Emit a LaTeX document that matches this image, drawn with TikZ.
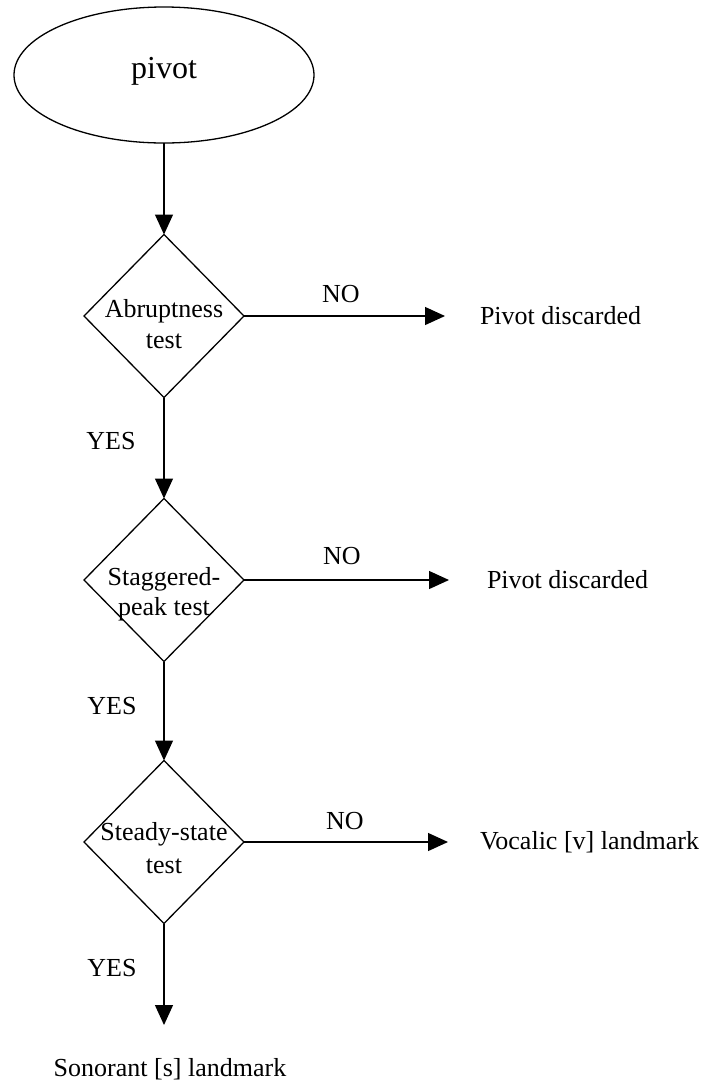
\documentclass[tikz,border=0pt]{standalone}
\usepackage{fontspec}
\setmainfont{Liberation Serif}
\usetikzlibrary{shapes.geometric,arrows.meta}
\begin{document}
\begin{tikzpicture}[x=1pt,y=-1pt,
  line width=1.3pt,
  flow/.style={-{Triangle[length=20pt,width=18pt]}},
  testbox/.style={draw,diamond,minimum width=160pt,minimum height=163pt,inner sep=0pt,outer sep=0pt},
  txt/.style={font=\fontsize{26}{31}\selectfont,inner sep=0pt,outer sep=0pt},
]
\useasboundingbox (0,0) rectangle (710,1080);

% start node
\node[draw,ellipse,minimum width=300pt,minimum height=136pt,inner sep=0pt,outer sep=0pt] (pivot) at (164,75) {};
\node[txt,font=\fontsize{32}{38}\selectfont,anchor=base] (pivottext) at (164,78) {pivot};

% decision diamonds
\node[testbox] (d1) at (164,316) {};
\node[txt,anchor=base] (d1a) at (164,317) {Abruptness};
\node[txt,anchor=base] (d1b) at (164,348) {test};

\node[testbox] (d2) at (164,580) {};
\node[txt,anchor=base] (d2a) at (164,585) {Staggered-};
\node[txt,anchor=base] (d2b) at (164,615) {peak test};

\node[testbox] (d3) at (164,842) {};
\node[txt,anchor=base] (d3a) at (164,840) {Steady-state};
\node[txt,anchor=base] (d3b) at (164,873) {test};

% outcomes
\node[txt,anchor=west] (out1) at (480,316) {Pivot discarded};
\node[txt,anchor=west] (out2) at (487,580) {Pivot discarded};
\node[txt,anchor=west] (out3) at (480,842) {Vocalic [v] landmark};
\node[txt,anchor=north] (out4) at (170,1058) {Sonorant [s] landmark};

% branch labels
\node[txt,anchor=base] (no1) at (341,302) {NO};
\node[txt,anchor=base] (no2) at (342,564) {NO};
\node[txt,anchor=base] (no3) at (345,829) {NO};
\node[txt,anchor=base] (yes1) at (111,449) {YES};
\node[txt,anchor=base] (yes2) at (112,714) {YES};
\node[txt,anchor=base] (yes3) at (112,976) {YES};

% connectors
\draw[flow] (pivot.south) -- (d1.north);
\draw[flow] (d1.south) -- (d2.north);
\draw[flow] (d2.south) -- (d3.north);
\draw[flow,shorten >=33pt] (d3.south) -- (d3.south |- out4.north);
\draw[flow,shorten >=35pt] (d1.east) -- (out1.west);
\draw[flow,shorten >=38pt] (d2.east) -- (out2.west);
\draw[flow,shorten >=32pt] (d3.east) -- (out3.west);
\end{tikzpicture}
\end{document}
